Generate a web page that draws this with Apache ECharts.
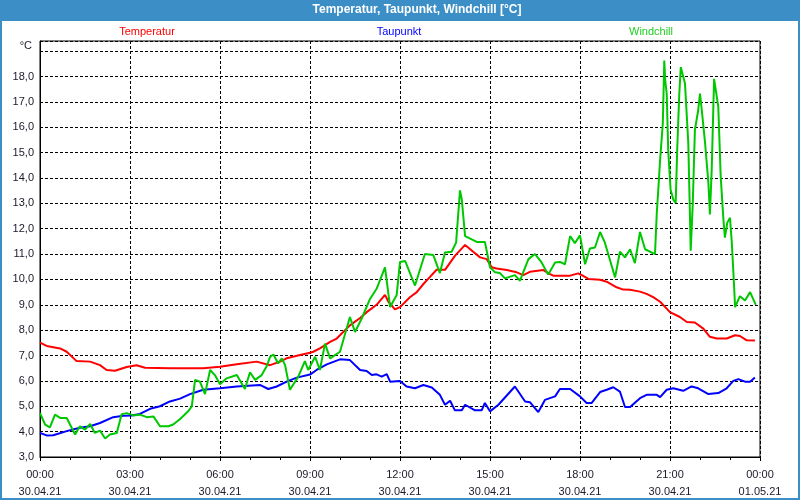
<!DOCTYPE html>
<html>
<head>
<meta charset="utf-8">
<script src="https://cdn.jsdelivr.net/npm/echarts@6/dist/echarts.min.js"></script>
<style>html,body{margin:0;padding:0;background:#fff}#c{width:800px;height:500px}</style>
</head>
<body>
<div id="c"></div>
<script>
// Tick labels
const timeLabels = ['00:00','03:00','06:00','09:00','12:00','15:00','18:00','21:00','00:00'];
const dateLabels = ['30.04.21','30.04.21','30.04.21','30.04.21','30.04.21','30.04.21','30.04.21','30.04.21','01.05.21'];
const seriesNames = ['Temperatur','Taupunkt','Windchill'];

// Temperatur (hours since 00:00, °C)
const tempHours = [0,0.22,0.67,0.89,1.22,1.67,2.0,2.22,2.5,2.89,3.22,3.5,4.33,5.44,6.0,6.56,7.22,7.67,8.0,8.22,8.67,9.0,9.11,9.33,9.67,9.89,10.33,10.67,10.89,11.22,11.5,11.61,11.83,12.0,12.33,12.56,12.78,13.0,13.22,13.5,13.83,14.17,14.44,14.67,14.89,15.06,15.22,15.56,15.89,16.11,16.33,16.78,17.0,17.11,17.67,17.94,18.06,18.28,18.67,18.89,19.22,19.44,19.67,20.0,20.22,20.44,20.67,21.0,21.33,21.56,21.83,22.11,22.33,22.56,22.89,23.17,23.33,23.56,23.83];
const tempValues = [7.51,7.38,7.28,7.15,6.78,6.76,6.62,6.43,6.40,6.55,6.62,6.52,6.50,6.50,6.56,6.66,6.76,6.62,6.76,6.89,7.02,7.11,7.15,7.28,7.54,7.67,8.19,8.48,8.71,9.0,9.39,9.13,8.82,8.91,9.30,9.50,9.82,10.10,10.38,10.38,10.93,11.36,11.09,10.87,10.80,10.48,10.43,10.37,10.28,10.17,10.30,10.37,10.21,10.15,10.15,10.24,10.17,10.02,9.99,9.91,9.69,9.60,9.59,9.52,9.43,9.30,9.12,8.71,8.52,8.32,8.30,8.06,7.74,7.67,7.67,7.80,7.77,7.60,7.59];

// Taupunkt
const dewHours = [0,0.22,0.44,0.89,1.33,1.67,2.0,2.44,2.78,3.06,3.33,3.67,4.0,4.33,4.67,5.0,5.44,6.0,6.56,7.33,7.61,7.89,8.22,8.56,9.0,9.22,9.56,10.0,10.33,10.67,10.89,11.06,11.22,11.39,11.56,11.67,12.0,12.22,12.5,12.78,13.06,13.33,13.5,13.67,13.83,14.06,14.17,14.5,14.72,14.83,15.0,15.28,15.83,16.17,16.33,16.61,16.83,17.17,17.33,17.67,18.0,18.22,18.39,18.67,18.89,19.11,19.33,19.5,19.67,20.0,20.22,20.56,20.67,20.89,21.11,21.44,21.72,21.94,22.28,22.61,22.89,23.11,23.28,23.5,23.67,23.83];
const dewValues = [3.95,3.85,3.86,4.02,4.15,4.21,4.34,4.57,4.63,4.64,4.70,4.90,5.00,5.19,5.30,5.48,5.65,5.71,5.78,5.84,5.68,5.78,5.97,6.13,6.25,6.43,6.65,6.85,6.82,6.43,6.39,6.23,6.26,6.17,6.27,5.97,6.00,5.78,5.71,5.84,5.74,5.45,5.06,5.22,4.84,4.84,5.06,4.84,4.84,5.13,4.80,5.06,5.78,5.19,5.16,4.77,5.25,5.39,5.68,5.68,5.39,5.13,5.13,5.56,5.65,5.75,5.58,4.97,4.97,5.32,5.45,5.45,5.36,5.65,5.71,5.61,5.78,5.71,5.48,5.52,5.71,6.00,6.07,5.97,5.97,6.13];

// Windchill
const chillHours = [0,0.17,0.33,0.5,0.67,0.89,1.17,1.33,1.5,1.67,1.83,2.0,2.17,2.33,2.56,2.72,2.89,3.11,3.33,3.56,3.78,4.0,4.28,4.44,4.67,4.94,5.06,5.17,5.33,5.5,5.67,5.83,6.0,6.22,6.56,6.83,7.0,7.17,7.39,7.56,7.67,7.78,7.94,8.06,8.17,8.33,8.61,8.83,8.94,9.17,9.33,9.5,9.67,10.0,10.33,10.5,10.72,11.0,11.22,11.5,11.56,11.67,11.89,12.0,12.17,12.5,12.83,13.11,13.33,13.5,13.72,13.87,14.0,14.06,14.17,14.39,14.56,14.83,15.0,15.17,15.33,15.5,15.83,16.0,16.28,16.5,16.72,16.94,17.17,17.33,17.5,17.67,17.83,18.0,18.17,18.33,18.5,18.67,18.83,19.17,19.33,19.5,19.67,19.83,20.0,20.17,20.5,20.56,20.61,20.67,20.76,20.81,20.84,20.89,20.94,21.02,21.11,21.19,21.24,21.31,21.36,21.5,21.61,21.67,21.69,21.76,21.83,21.94,22.0,22.06,22.17,22.28,22.33,22.39,22.47,22.53,22.61,22.69,22.78,22.83,22.91,23.0,23.06,23.13,23.17,23.33,23.5,23.67,23.86];
const chillValues = [4.73,4.28,4.17,4.67,4.54,4.54,3.89,4.21,4.08,4.30,3.95,4.04,3.73,3.89,3.95,4.69,4.73,4.64,4.67,4.57,4.60,4.21,4.21,4.28,4.50,4.80,5.00,6.04,5.97,5.48,6.43,6.23,5.87,6.10,6.23,5.68,6.34,6.04,6.23,6.59,6.95,7.04,6.69,6.89,6.62,5.65,6.17,6.78,6.43,6.95,6.43,7.47,6.89,7.15,8.52,7.93,8.45,9.23,9.63,10.48,10.41,8.91,9.39,10.69,10.73,9.76,11.0,10.96,10.25,11.06,11.09,11.45,13.51,13.15,11.71,11.58,11.48,11.48,10.48,10.28,10.25,10.04,10.17,9.95,10.80,11.0,10.67,10.19,10.67,10.69,10.60,11.71,11.43,11.74,10.60,11.22,11.26,11.87,11.45,10.08,11.09,10.87,11.19,10.64,11.87,11.19,11.0,12.63,13.54,14.71,16.15,18.63,17.85,17.33,15.11,13.54,13.15,13.02,15.11,17.33,18.37,17.72,15.37,12.24,11.13,13.02,15.89,16.67,17.33,16.67,15.37,13.80,12.56,14.32,17.91,17.85,16.80,14.06,12.37,11.65,12.24,12.43,11.45,9.89,8.91,9.34,9.17,9.50,9.0];

const colors = ['#ff0000','#0000ff','#00c800'];
const legendColors = ['#ff0000','#0000ff','#22cc22'];
const FONT = 'Liberation Sans';

function pairs(xs, ys){ return xs.map((x,i)=>[x, ys[i]]); }

const chart = echarts.init(document.getElementById('c'), null, {renderer:'canvas'});
const dash = {color:'#000', width:1, type:[3,2]};

chart.setOption({
  animation: false,
  backgroundColor: '#ffffff',
  grid: {left:40, right:40, top:41, bottom:41, show:true, borderColor:'#000', borderWidth:1, backgroundColor:'transparent'},
  xAxis: {
    type:'value', min:0, max:24, interval:3,
    axisLine:{show:true, lineStyle:{color:'#000', width:1}},
    axisTick:{show:true, length:4, lineStyle:{color:'#000'}},
    minorTick:{show:true, splitNumber:3, length:3, lineStyle:{color:'#000'}},
    splitLine:{show:true, lineStyle:dash},
    axisLabel:{
      margin:9, color:'#1a1a2a', fontFamily:FONT, fontSize:11, lineHeight:17,
      formatter: v => { const i = Math.round(v/3); return timeLabels[i] + '\n' + dateLabels[i]; }
    }
  },
  yAxis: {
    type:'value', min:3, max:19.4, interval:1,
    axisLine:{show:true, lineStyle:{color:'#000', width:1}},
    axisTick:{show:false},
    splitLine:{show:true, lineStyle:dash},
    axisLabel:{
      margin:6, color:'#1a1a2a', fontFamily:FONT, fontSize:11, showMaxLabel:false,
      formatter: v => (v >= 19 ? '' : v.toFixed(1).replace('.', ','))
    }
  },
  graphic: [
    {type:'rect', shape:{x:0,y:0,width:800,height:21}, style:{fill:'#3c8fc6'}, silent:true},
    {type:'rect', shape:{x:0,y:21,width:2,height:479}, style:{fill:'#3c8fc6'}, silent:true},
    {type:'rect', shape:{x:798,y:21,width:2,height:479}, style:{fill:'#3c8fc6'}, silent:true},
    {type:'rect', shape:{x:0,y:498,width:800,height:2}, style:{fill:'#3c8fc6'}, silent:true},
    {type:'text', x:417, y:10, style:{text:'Temperatur, Taupunkt, Windchill [°C]', fill:'#fff', font:'bold 12px "' + FONT + '"', textAlign:'center', textVerticalAlign:'middle'}, silent:true},
    {type:'text', x:147, y:32, style:{text:seriesNames[0], fill:legendColors[0], font:'11px "' + FONT + '"', textAlign:'center', textVerticalAlign:'middle'}, silent:true},
    {type:'text', x:399, y:32, style:{text:seriesNames[1], fill:legendColors[1], font:'11px "' + FONT + '"', textAlign:'center', textVerticalAlign:'middle'}, silent:true},
    {type:'text', x:651, y:32, style:{text:seriesNames[2], fill:legendColors[2], font:'11px "' + FONT + '"', textAlign:'center', textVerticalAlign:'middle'}, silent:true},
    {type:'text', x:32, y:46, style:{text:'°C', fill:'#1a1a2a', font:'11px "' + FONT + '"', textAlign:'right', textVerticalAlign:'middle'}, silent:true}
  ],
  series: [
    {name:seriesNames[0], type:'line', data:pairs(tempHours,tempValues), showSymbol:false, lineStyle:{color:colors[0], width:2}, itemStyle:{color:colors[0]}, z:2},
    {name:seriesNames[1], type:'line', data:pairs(dewHours,dewValues), showSymbol:false, lineStyle:{color:colors[1], width:2}, itemStyle:{color:colors[1]}, z:2},
    {name:seriesNames[2], type:'line', data:pairs(chillHours,chillValues), showSymbol:false, lineStyle:{color:colors[2], width:2}, itemStyle:{color:colors[2]}, z:3}
  ]
});
</script>
</body>
</html>
